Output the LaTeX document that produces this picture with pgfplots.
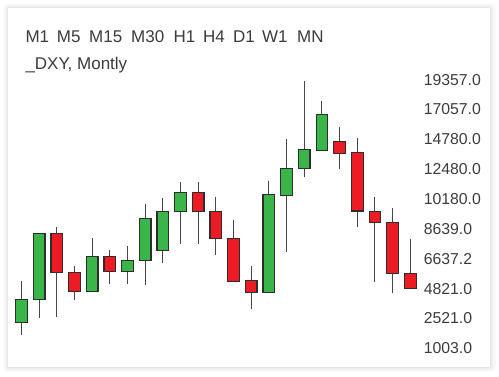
\documentclass[border=0pt]{standalone}
\usepackage{fontspec}
\setmainfont{Liberation Sans}
\usepackage{pgfplots}
\pgfplotsset{compat=1.18}
\usepgfplotslibrary{statistics}
\definecolor{cgreen}{RGB}{58,181,74}
\definecolor{cred}{RGB}{237,28,36}
\definecolor{cedge}{RGB}{45,45,45}
\definecolor{cwick}{RGB}{70,70,70}
\definecolor{ctext}{RGB}{60,60,60}
\begin{document}
\begin{tikzpicture}
\fill[white] (0pt,0pt) rectangle (499pt,376pt);
\fill[black!3, rounded corners=4pt] (3.5pt,4.5pt) rectangle (495.5pt,372pt);
\fill[black!6, rounded corners=3pt] (5.5pt,6.5pt) rectangle (493pt,370pt);
\fill[black!10, rounded corners=2pt] (7pt,8pt) rectangle (491pt,369pt);
\fill[white] (8pt,9pt) rectangle (490pt,368pt);
\foreach \w/\xx in {M1/25.3, M5/56.7, M15/89, M30/131, H1/173.3, H4/203, D1/233, W1/262, MN/297}
  \node[anchor=base west, inner sep=0pt, font=\fontsize{17}{20}\selectfont, text=ctext] at (\xx pt,334pt) {\w};
\node[anchor=base west, inner sep=0pt, font=\fontsize{17}{20}\selectfont, text=ctext] at (25.3pt,306.5pt) {\_DXY, Montly};
\begin{axis}[
  at={(12.67pt,12.8pt)}, anchor=south west, scale only axis,
  width=406.4pt, height=298.5pt,
  xmin=0.5, xmax=23.5, ymin=-0.5, ymax=9.5,
  axis line style={draw=none},
  xtick=\empty,
  ytick={0,1,2,3,4,5,6,7,8,9},
  yticklabels={1003.0,2521.0,4821.0,6637.2,8639.0,10180.0,12480.0,14780.0,17057.0,19357.0},
  yticklabel pos=right,
  major tick length=0pt,
  yticklabel style={anchor=west, inner sep=0pt, xshift=4.5pt, font=\fontsize{15.8}{18}\selectfont, text=ctext},
  /pgf/number format/assume math mode=true,
  boxplot/draw direction=y,
  boxplot/box extend=0.66,
  boxplot/whisker extend=0,
  boxplot/every whisker/.style={draw=cwick, line width=1.1pt},
  boxplot/every box/.style={draw=cedge, line width=1.1pt},
  boxplot/every median/.style={draw=cedge, line width=1.1pt},
  clip=false,
]
\addplot[fill=cgreen, boxplot prepared={draw position=1, lower whisker=0.45, lower quartile=0.86, median=0.86, upper quartile=1.63, upper whisker=2.25}] coordinates {};
\addplot[fill=cgreen, boxplot prepared={draw position=2, lower whisker=1.01, lower quartile=1.62, median=1.62, upper quartile=3.84, upper whisker=3.84}] coordinates {};
\addplot[fill=cred, boxplot prepared={draw position=3, lower whisker=1.06, lower quartile=2.54, median=2.54, upper quartile=3.84, upper whisker=4.06}] coordinates {};
\addplot[fill=cred, boxplot prepared={draw position=4, lower whisker=1.61, lower quartile=1.90, median=1.90, upper quartile=2.54, upper whisker=2.76}] coordinates {};
\addplot[fill=cgreen, boxplot prepared={draw position=5, lower whisker=1.91, lower quartile=1.91, median=1.91, upper quartile=3.06, upper whisker=3.69}] coordinates {};
\addplot[fill=cred, boxplot prepared={draw position=6, lower whisker=2.15, lower quartile=2.57, median=2.57, upper quartile=3.06, upper whisker=3.30}] coordinates {};
\addplot[fill=cgreen, boxplot prepared={draw position=7, lower whisker=2.15, lower quartile=2.57, median=2.57, upper quartile=2.95, upper whisker=3.43}] coordinates {};
\addplot[fill=cgreen, boxplot prepared={draw position=8, lower whisker=2.13, lower quartile=2.95, median=2.95, upper quartile=4.36, upper whisker=4.85}] coordinates {};
\addplot[fill=cgreen, boxplot prepared={draw position=9, lower whisker=2.85, lower quartile=3.29, median=3.29, upper quartile=4.57, upper whisker=5.05}] coordinates {};
\addplot[fill=cgreen, boxplot prepared={draw position=10, lower whisker=3.50, lower quartile=4.57, median=4.57, upper quartile=5.21, upper whisker=5.57}] coordinates {};
\addplot[fill=cred, boxplot prepared={draw position=11, lower whisker=3.50, lower quartile=4.57, median=4.57, upper quartile=5.21, upper whisker=5.57}] coordinates {};
\addplot[fill=cred, boxplot prepared={draw position=12, lower whisker=3.11, lower quartile=3.67, median=3.67, upper quartile=4.57, upper whisker=5.07}] coordinates {};
\addplot[fill=cred, boxplot prepared={draw position=13, lower whisker=2.25, lower quartile=2.25, median=2.25, upper quartile=3.68, upper whisker=4.30}] coordinates {};
\addplot[fill=cred, boxplot prepared={draw position=14, lower whisker=1.31, lower quartile=1.88, median=1.88, upper quartile=2.26, upper whisker=2.74}] coordinates {};
\addplot[fill=cgreen, boxplot prepared={draw position=15, lower whisker=1.88, lower quartile=1.88, median=1.88, upper quartile=5.14, upper whisker=5.62}] coordinates {};
\addplot[fill=cgreen, boxplot prepared={draw position=16, lower whisker=3.24, lower quartile=5.11, median=5.11, upper quartile=6.02, upper whisker=7.02}] coordinates {};
\addplot[fill=cgreen, boxplot prepared={draw position=17, lower whisker=5.74, lower quartile=6.01, median=6.01, upper quartile=6.65, upper whisker=8.97}] coordinates {};
\addplot[fill=cgreen, boxplot prepared={draw position=18, lower whisker=6.64, lower quartile=6.64, median=6.64, upper quartile=7.83, upper whisker=8.30}] coordinates {};
\addplot[fill=cred, boxplot prepared={draw position=19, lower whisker=6.01, lower quartile=6.54, median=6.54, upper quartile=6.93, upper whisker=7.42}] coordinates {};
\addplot[fill=cred, boxplot prepared={draw position=20, lower whisker=4.06, lower quartile=4.60, median=4.60, upper quartile=6.55, upper whisker=7.03}] coordinates {};
\addplot[fill=cred, boxplot prepared={draw position=21, lower whisker=2.23, lower quartile=4.22, median=4.22, upper quartile=4.57, upper whisker=5.07}] coordinates {};
\addplot[fill=cred, boxplot prepared={draw position=22, lower whisker=1.85, lower quartile=2.52, median=2.52, upper quartile=4.21, upper whisker=4.70}] coordinates {};
\addplot[fill=cred, boxplot prepared={draw position=23, lower whisker=2.01, lower quartile=2.01, median=2.01, upper quartile=2.52, upper whisker=3.67}] coordinates {};
\end{axis}
\pgfresetboundingbox
\path (0pt,0pt) rectangle (499pt,376pt);
\end{tikzpicture}
\end{document}
